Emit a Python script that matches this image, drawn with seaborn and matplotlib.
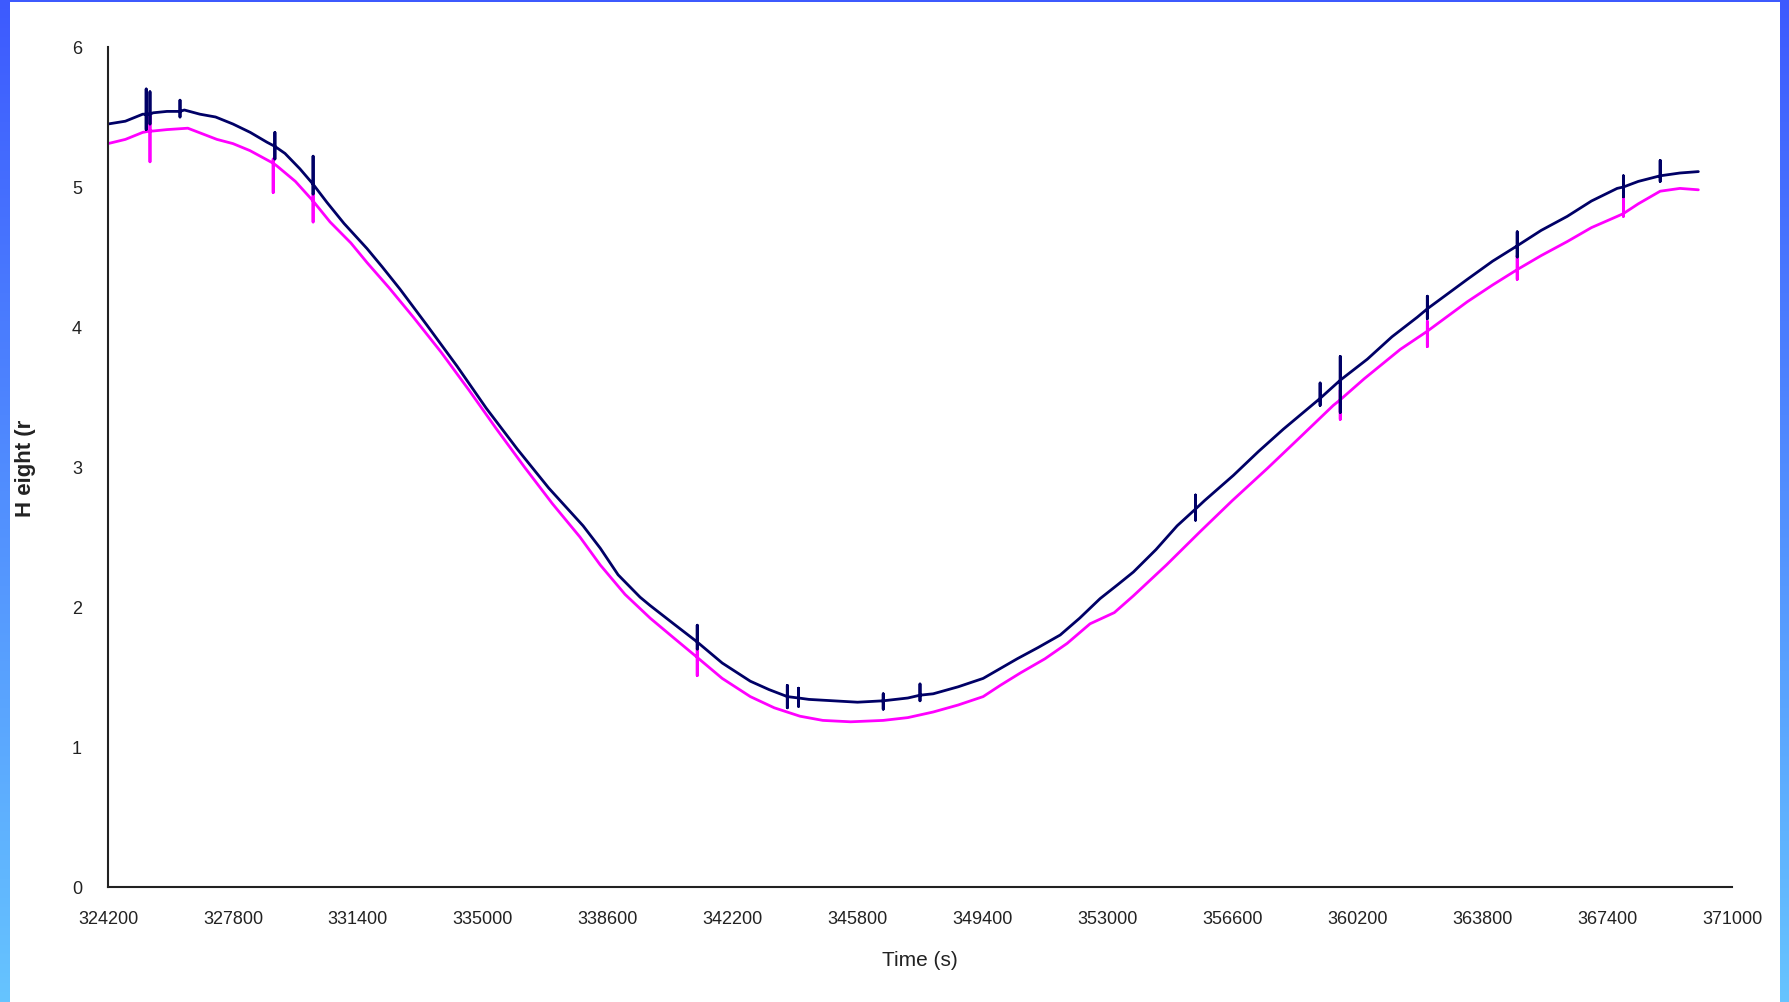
import numpy as np
import pandas as pd
import matplotlib
matplotlib.use("Agg")
import matplotlib.pyplot as plt
import seaborn as sns

# Water height records from two gauges (time in seconds).
# Short spikes are stored as base -> top -> bottom -> base at one time stamp.
time_gauge_a = [
    324200, 324700, 325200,
    325300, 325300, 325300, 325300,
    325410, 325410, 325410, 325410,
    325500, 325900,
    326275, 326275, 326275, 326275,
    326400, 326850, 327300, 327800, 328300, 328780,
    329010, 329010, 329010, 329010,
    329300, 329730,
    330110, 330110, 330110, 330110,
    330510, 331000, 331665, 332100, 332616, 333400, 334259, 335100, 335988,
    336900, 337891, 338386, 338900, 339534, 339826, 340500,
    341180, 341180, 341180, 341180,
    341900, 342710, 343250,
    343776, 343776, 343776, 343776,
    344100, 344100, 344100, 344100,
    344400, 345100, 345800,
    346540, 346540, 346540, 346540,
    347250,
    347600, 347600, 347600, 347600,
    347980, 348700, 349420, 349912, 350400, 351000, 351640, 352200, 352790,
    353300, 353750, 354400, 355010,
    355540, 355540, 355540, 355540,
    355800, 356630, 357350, 358070, 358600,
    359130, 359130, 359130, 359130,
    359710, 359710, 359710, 359710,
    360490, 361200, 361930,
    362220, 362220, 362220, 362220,
    362880, 363370, 364100,
    364810, 364810, 364810, 364810,
    365500, 366250, 366950, 367690,
    367870, 367870, 367870, 367870,
    368300,
    368930, 368930, 368930, 368930,
    369500, 370030,
]
height_gauge_a = [
    5.45, 5.47, 5.52,
    5.52, 5.70, 5.41, 5.52,
    5.52, 5.68, 5.45, 5.52,
    5.53, 5.54,
    5.54, 5.62, 5.50, 5.54,
    5.55, 5.52, 5.50, 5.45, 5.39, 5.32,
    5.29, 5.39, 5.20, 5.29,
    5.24, 5.13,
    5.02, 5.22, 4.95, 5.02,
    4.89, 4.74, 4.56, 4.43, 4.27, 4.01, 3.72, 3.42, 3.13,
    2.85, 2.58, 2.42, 2.23, 2.07, 2.01, 1.88,
    1.75, 1.87, 1.70, 1.75,
    1.60, 1.47, 1.41,
    1.36, 1.44, 1.28, 1.36,
    1.35, 1.42, 1.29, 1.35,
    1.34, 1.33, 1.32,
    1.33, 1.38, 1.27, 1.33,
    1.35,
    1.37, 1.45, 1.33, 1.37,
    1.38, 1.43, 1.49, 1.56, 1.63, 1.71, 1.80, 1.92, 2.06,
    2.16, 2.25, 2.41, 2.58,
    2.70, 2.80, 2.62, 2.70,
    2.76, 2.94, 3.11, 3.27, 3.38,
    3.49, 3.60, 3.44, 3.49,
    3.62, 3.79, 3.39, 3.62,
    3.77, 3.93, 4.07,
    4.13, 4.22, 4.06, 4.13,
    4.25, 4.34, 4.47,
    4.58, 4.68, 4.50, 4.58,
    4.69, 4.79, 4.90, 4.99,
    5.00, 5.08, 4.93, 5.00,
    5.04,
    5.08, 5.19, 5.04, 5.08,
    5.10, 5.11,
]

time_gauge_b = [
    324200, 324700, 325200,
    325410, 325410, 325410, 325410,
    325500, 325900, 326500, 327340, 327800, 328290,
    328960, 328960, 328960, 328960,
    329070, 329600,
    330110, 330110, 330110, 330110,
    330600, 331200, 331665, 332300, 333000, 333800, 334600, 335400, 336200,
    337000, 337800, 338386, 339100, 339826, 340500,
    341180, 341180, 341180, 341180,
    341900, 342710, 343400, 344140, 344800, 345600, 346540, 347250, 347980,
    348700, 349420, 349912, 350500, 351200, 351840, 352500, 353200, 353750,
    354700, 355680, 356600, 357610, 358500, 359510,
    359710, 359710, 359710, 359710,
    360400, 361440,
    362220, 362220, 362220, 362220,
    363370, 364100,
    364810, 364810, 364810, 364810,
    365500, 366250, 366950, 367690,
    367870, 367870, 367870, 367870,
    368300, 368930, 369500, 370030,
]
height_gauge_b = [
    5.31, 5.34, 5.39,
    5.40, 5.53, 5.18, 5.40,
    5.40, 5.41, 5.42, 5.34, 5.31, 5.26,
    5.17, 5.20, 4.96, 5.17,
    5.15, 5.04,
    4.90, 4.95, 4.75, 4.90,
    4.75, 4.60, 4.46, 4.28, 4.07, 3.82, 3.55, 3.27, 3.00,
    2.74, 2.50, 2.30, 2.09, 1.92, 1.78,
    1.64, 1.70, 1.51, 1.64,
    1.49, 1.36, 1.28, 1.22, 1.19, 1.18, 1.19, 1.21, 1.25,
    1.30, 1.36, 1.44, 1.53, 1.63, 1.74, 1.88, 1.96, 2.08,
    2.30, 2.54, 2.76, 2.99, 3.20, 3.44,
    3.48, 3.55, 3.34, 3.48,
    3.63, 3.84,
    3.97, 4.04, 3.86, 3.97,
    4.18, 4.30,
    4.41, 4.51, 4.34, 4.41,
    4.51, 4.61, 4.71, 4.79,
    4.81, 4.94, 4.79, 4.81,
    4.88, 4.97, 4.99, 4.98,
]

x_ticks = list(range(324200, 371001, 3600))
y_ticks = [0, 1, 2, 3, 4, 5, 6]

df = pd.concat([
    pd.DataFrame({"time": time_gauge_a, "height": height_gauge_a, "gauge": "A"}),
    pd.DataFrame({"time": time_gauge_b, "height": height_gauge_b, "gauge": "B"}),
], ignore_index=True)

sns.set_style("white")
plt.rcParams["font.family"] = ["Liberation Sans", "DejaVu Sans"]

W, H = 1789, 1003
fig = plt.figure(figsize=(W / 100, H / 100), dpi=100)
fig.patch.set_facecolor("white")
ax = fig.add_axes([108 / W, 1 - 888 / H, (1732 - 108) / W, (888 - 48) / H])

sns.lineplot(data=df, x="time", y="height", hue="gauge",
             palette={"A": "#000066", "B": "#ff00ff"}, hue_order=["B", "A"],
             estimator=None, sort=False, units="gauge", linewidth=2.0,
             legend=False, ax=ax)

ax.set_xlim(324200, 371000)
ax.set_ylim(0, 6)
ax.set_xticks(x_ticks)
ax.set_xticklabels([str(t) for t in x_ticks])
ax.set_yticks(y_ticks)
ax.set_yticklabels([str(v) for v in y_ticks])

for side in ("top", "right"):
    ax.spines[side].set_visible(False)
for side in ("left", "bottom"):
    ax.spines[side].set_color("#222222")
    ax.spines[side].set_linewidth(1.5)

ax.tick_params(axis="both", direction="out", length=5.8, width=1.4,
               color="#222222", labelcolor="#222222", labelsize=13)
ax.tick_params(axis="x", pad=11)
ax.tick_params(axis="y", pad=13)

ax.set_xlabel("Time (s)", fontsize=15, color="#222222", va="center")
ax.xaxis.set_label_coords(0.5, (888 - 961) / 840)
ax.set_ylabel("H eight (r", fontsize=16, fontweight="bold", color="#222222",
              va="center")
ax.yaxis.set_label_coords((25 - 108) / 1624, 0.5)

# Blue gradient frame on the left, top and right edges
top_col = np.array([0x3d, 0x5a, 0xfe]) / 255.0
bot_col = np.array([0x66, 0xc4, 0xff]) / 255.0
frac = np.linspace(0, 1, H)[:, None]
grad = top_col[None, :] * (1 - frac) + bot_col[None, :] * frac
left_band = np.repeat(grad[:, None, :], 10, axis=1)
right_band = np.repeat(grad[:, None, :], W - 1780, axis=1)
fig.figimage(left_band, xo=0, yo=0, origin="upper", zorder=5)
fig.figimage(right_band, xo=1780, yo=0, origin="upper", zorder=5)
top_band = np.tile(top_col[None, None, :], (3, W, 1))
fig.figimage(top_band, xo=0, yo=H - 3, origin="upper", zorder=5)

fig.savefig("out.png", dpi=100, facecolor="white")
